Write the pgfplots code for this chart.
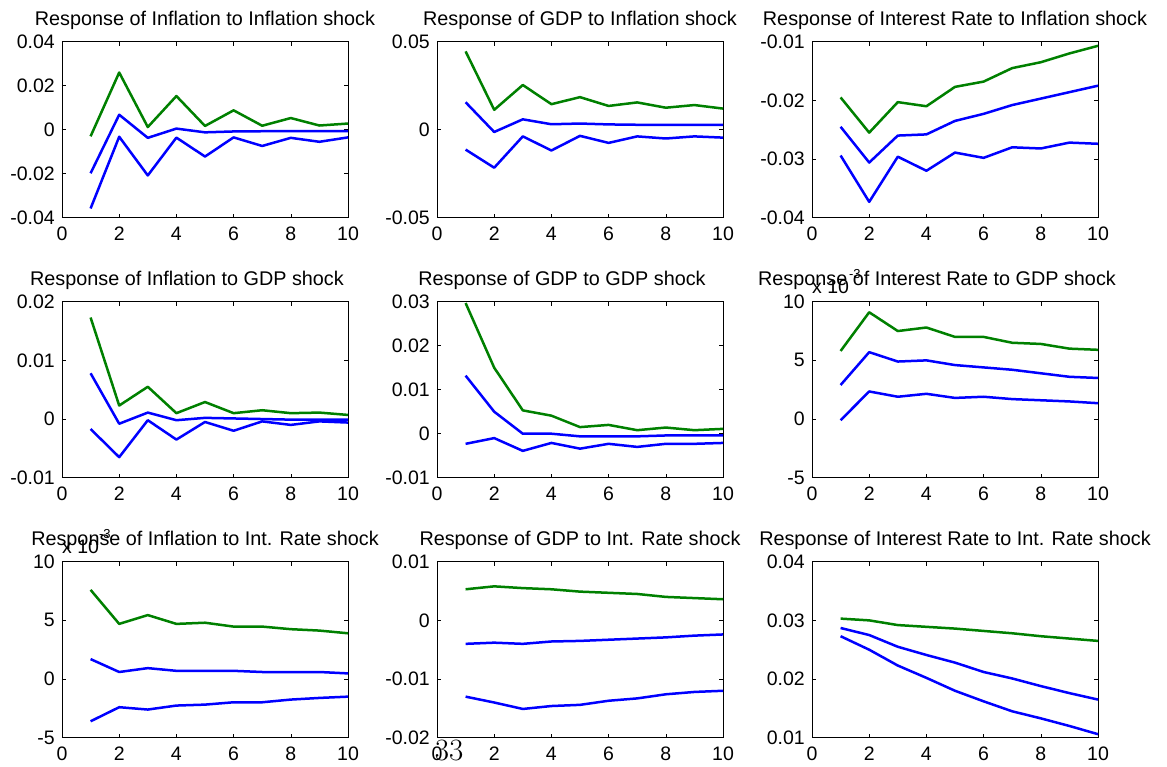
\documentclass[border=0pt]{standalone}
\usepackage{pgfplots}
\pgfplotsset{compat=1.18}
\usepackage{fontspec}
\newfontfamily\arial{Liberation Sans}
\newcommand\tickfont{\arial\fontsize{19.5}{20}\selectfont}
\newcommand\titlefont{\arial\fontsize{19.8}{20}\selectfont}
\definecolor{mgreen}{rgb}{0,0.5,0}
\definecolor{mblue}{rgb}{0,0,1}
\pgfplotsset{
 every axis title shift=0pt,
 irf/.style={
  scale only axis, width=286pt, height=176pt,
  xmin=0, xmax=10, xtick={0,2,4,6,8,10}, xticklabels={0,2,4,6,8,10},
  scaled y ticks=false, scaled x ticks=false,
  tick align=inside, major tick length=4pt,
  axis line style={line width=0.8pt, black},
  every tick/.style={black, line width=0.6pt},
  ticklabel style={font=\tickfont},
  yticklabel style={inner sep=0pt, xshift=-7pt},
  xticklabel style={inner sep=0pt, yshift=-9pt},
  title style={at={(0.5,1)}, anchor=base, yshift=16pt, inner sep=0pt, font=\titlefont},
  anchor=north west, clip=false,
  every axis plot/.append style={line width=2.5pt, line join=round},
 },
}
\newcommand\expolabel{\node[anchor=base west, inner sep=0pt, font=\tickfont] at (rel axis cs:0,1) [yshift=8pt] {x 10\raisebox{15pt}{\arial\fontsize{13}{13}\selectfont -3}};}
\begin{document}
\begin{tikzpicture}
\useasboundingbox (0pt,0pt) rectangle (1167pt,-766pt);
% Row 1
\begin{axis}[irf, at={(62pt,-41.7pt)}, title={Response of Inflation to Inflation shock},
  ymin=-0.04, ymax=0.04, ytick={-0.04,-0.02,0,0.02,0.04}, yticklabels={-0.04,-0.02,0,0.02,0.04}]
\addplot[mgreen] coordinates {(1,-0.003)(2,0.026)(3,0.0012)(4,0.0153)(5,0.0017)(6,0.0088)(7,0.0018)(8,0.0053)(9,0.0019)(10,0.0028)};
\addplot[mblue] coordinates {(1,-0.0198)(2,0.0068)(3,-0.0037)(4,0.0005)(5,-0.0012)(6,-0.0008)(7,-0.0007)(8,-0.0007)(9,-0.0007)(10,-0.0007)};
\addplot[mblue] coordinates {(1,-0.0358)(2,-0.0032)(3,-0.0208)(4,-0.0036)(5,-0.0122)(6,-0.0035)(7,-0.0074)(8,-0.0037)(9,-0.0055)(10,-0.0035)};
\end{axis}
\begin{axis}[irf, at={(437pt,-41.7pt)}, title={Response of GDP to Inflation shock},
  ymin=-0.05, ymax=0.05, ytick={-0.05,0,0.05}, yticklabels={-0.05,0,0.05}]
\addplot[mgreen] coordinates {(1,0.0445)(2,0.0113)(3,0.0254)(4,0.0145)(5,0.0185)(6,0.0135)(7,0.0155)(8,0.0125)(9,0.014)(10,0.012)};
\addplot[mblue] coordinates {(1,0.0156)(2,-0.0013)(3,0.0059)(4,0.0031)(5,0.0035)(6,0.003)(7,0.0028)(8,0.0028)(9,0.0028)(10,0.0028)};
\addplot[mblue] coordinates {(1,-0.0113)(2,-0.0216)(3,-0.0038)(4,-0.0118)(5,-0.0035)(6,-0.0075)(7,-0.0038)(8,-0.005)(9,-0.0038)(10,-0.0045)};
\end{axis}
\begin{axis}[irf, at={(812pt,-41.7pt)}, title={Response of Interest Rate to Inflation shock},
  ymin=-0.04, ymax=-0.01, ytick={-0.04,-0.03,-0.02,-0.01}, yticklabels={-0.04,-0.03,-0.02,-0.01}]
\addplot[mgreen] coordinates {(1,-0.0195)(2,-0.0255)(3,-0.0203)(4,-0.021)(5,-0.0177)(6,-0.0168)(7,-0.0145)(8,-0.0135)(9,-0.012)(10,-0.0107)};
\addplot[mblue] coordinates {(1,-0.0245)(2,-0.0306)(3,-0.026)(4,-0.0258)(5,-0.0235)(6,-0.0223)(7,-0.0208)(8,-0.0197)(9,-0.0186)(10,-0.0175)};
\addplot[mblue] coordinates {(1,-0.0294)(2,-0.0373)(3,-0.0296)(4,-0.032)(5,-0.0289)(6,-0.0298)(7,-0.028)(8,-0.0282)(9,-0.0272)(10,-0.0274)};
\end{axis}
% Row 2
\begin{axis}[irf, at={(62pt,-301.7pt)}, title={Response of Inflation to GDP shock}, title style={xshift=-18pt},
  ymin=-0.01, ymax=0.02, ytick={-0.01,0,0.01,0.02}, yticklabels={-0.01,0,0.01,0.02}]
\addplot[mgreen] coordinates {(1,0.0173)(2,0.0023)(3,0.0055)(4,0.001)(5,0.0029)(6,0.001)(7,0.0015)(8,0.001)(9,0.0011)(10,0.0007)};
\addplot[mblue] coordinates {(1,0.0078)(2,-0.0008)(3,0.0011)(4,-0.0002)(5,0.0002)(6,0.0001)(7,0.0)(8,-0.0001)(9,-0.0001)(10,-0.0001)};
\addplot[mblue] coordinates {(1,-0.0017)(2,-0.0065)(3,-0.0002)(4,-0.0035)(5,-0.0005)(6,-0.002)(7,-0.0004)(8,-0.001)(9,-0.0004)(10,-0.0006)};
\end{axis}
\begin{axis}[irf, at={(437pt,-301.7pt)}, title={Response of GDP to GDP shock}, title style={xshift=-18pt},
  ymin=-0.01, ymax=0.03, ytick={-0.01,0,0.01,0.02,0.03}, yticklabels={-0.01,0,0.01,0.02,0.03}]
\addplot[mgreen] coordinates {(1,0.0297)(2,0.015)(3,0.0053)(4,0.0041)(5,0.0015)(6,0.002)(7,0.0008)(8,0.0014)(9,0.0008)(10,0.0011)};
\addplot[mblue] coordinates {(1,0.0132)(2,0.005)(3,0.0)(4,0.0)(5,-0.0006)(6,-0.0006)(7,-0.0006)(8,-0.0004)(9,-0.0004)(10,-0.0004)};
\addplot[mblue] coordinates {(1,-0.0023)(2,-0.001)(3,-0.0039)(4,-0.0021)(5,-0.0034)(6,-0.0023)(7,-0.003)(8,-0.0023)(9,-0.0023)(10,-0.0021)};
\end{axis}
\begin{axis}[irf, at={(812pt,-301.7pt)}, title={Response of Interest Rate to GDP shock}, title style={xshift=-18pt},
  ymin=-5, ymax=10, ytick={-5,0,5,10}, yticklabels={-5,0,5,10}]
\addplot[mgreen] coordinates {(1,5.8)(2,9.1)(3,7.5)(4,7.8)(5,7.0)(6,7.0)(7,6.5)(8,6.4)(9,6.0)(10,5.9)};
\addplot[mblue] coordinates {(1,2.9)(2,5.7)(3,4.9)(4,5.0)(5,4.6)(6,4.4)(7,4.2)(8,3.9)(9,3.6)(10,3.5)};
\addplot[mblue] coordinates {(1,-0.1)(2,2.35)(3,1.9)(4,2.15)(5,1.8)(6,1.9)(7,1.7)(8,1.6)(9,1.5)(10,1.35)};
\expolabel
\end{axis}
% Row 3
\begin{axis}[irf, at={(62pt,-561.7pt)}, title={Response of Inflation to Int. Rate shock},
  ymin=-5, ymax=10, ytick={-5,0,5,10}, yticklabels={-5,0,5,10}]
\addplot[mgreen] coordinates {(1,7.6)(2,4.7)(3,5.45)(4,4.7)(5,4.8)(6,4.47)(7,4.47)(8,4.25)(9,4.13)(10,3.9)};
\addplot[mblue] coordinates {(1,1.7)(2,0.6)(3,0.93)(4,0.7)(5,0.7)(6,0.7)(7,0.6)(8,0.6)(9,0.6)(10,0.48)};
\addplot[mblue] coordinates {(1,-3.6)(2,-2.4)(3,-2.6)(4,-2.26)(5,-2.18)(6,-1.98)(7,-1.98)(8,-1.75)(9,-1.61)(10,-1.5)};
\expolabel
\end{axis}
\begin{axis}[irf, at={(437pt,-561.7pt)}, title={Response of GDP to Int. Rate shock},
  ymin=-0.02, ymax=0.01, ytick={-0.02,-0.01,0,0.01}, yticklabels={-0.02,-0.01,0,0.01}]
\addplot[mgreen] coordinates {(1,0.0053)(2,0.0058)(3,0.0055)(4,0.0053)(5,0.0049)(6,0.0047)(7,0.0045)(8,0.004)(9,0.0038)(10,0.0036)};
\addplot[mblue] coordinates {(1,-0.004)(2,-0.0038)(3,-0.004)(4,-0.0036)(5,-0.0035)(6,-0.0033)(7,-0.0031)(8,-0.0029)(9,-0.0026)(10,-0.0024)};
\addplot[mblue] coordinates {(1,-0.013)(2,-0.014)(3,-0.0151)(4,-0.0146)(5,-0.0144)(6,-0.0137)(7,-0.0133)(8,-0.0126)(9,-0.0122)(10,-0.012)};
\end{axis}
\begin{axis}[irf, at={(812pt,-561.7pt)}, title={Response of Interest Rate to Int. Rate shock},
  ymin=0.01, ymax=0.04, ytick={0.01,0.02,0.03,0.04}, yticklabels={0.01,0.02,0.03,0.04}]
\addplot[mgreen] coordinates {(1,0.0303)(2,0.03)(3,0.0292)(4,0.0289)(5,0.0286)(6,0.0282)(7,0.0278)(8,0.0273)(9,0.0269)(10,0.0265)};
\addplot[mblue] coordinates {(1,0.0287)(2,0.0275)(3,0.0255)(4,0.0241)(5,0.0228)(6,0.0212)(7,0.0201)(8,0.0188)(9,0.0176)(10,0.0165)};
\addplot[mblue] coordinates {(1,0.0273)(2,0.025)(3,0.0223)(4,0.0202)(5,0.018)(6,0.0162)(7,0.0145)(8,0.0133)(9,0.012)(10,0.0106)};
\end{axis}
\node[anchor=base, inner sep=0pt, font=\fontsize{31}{31}\selectfont] at (449pt,-760pt) {33};
\end{tikzpicture}
\end{document}
